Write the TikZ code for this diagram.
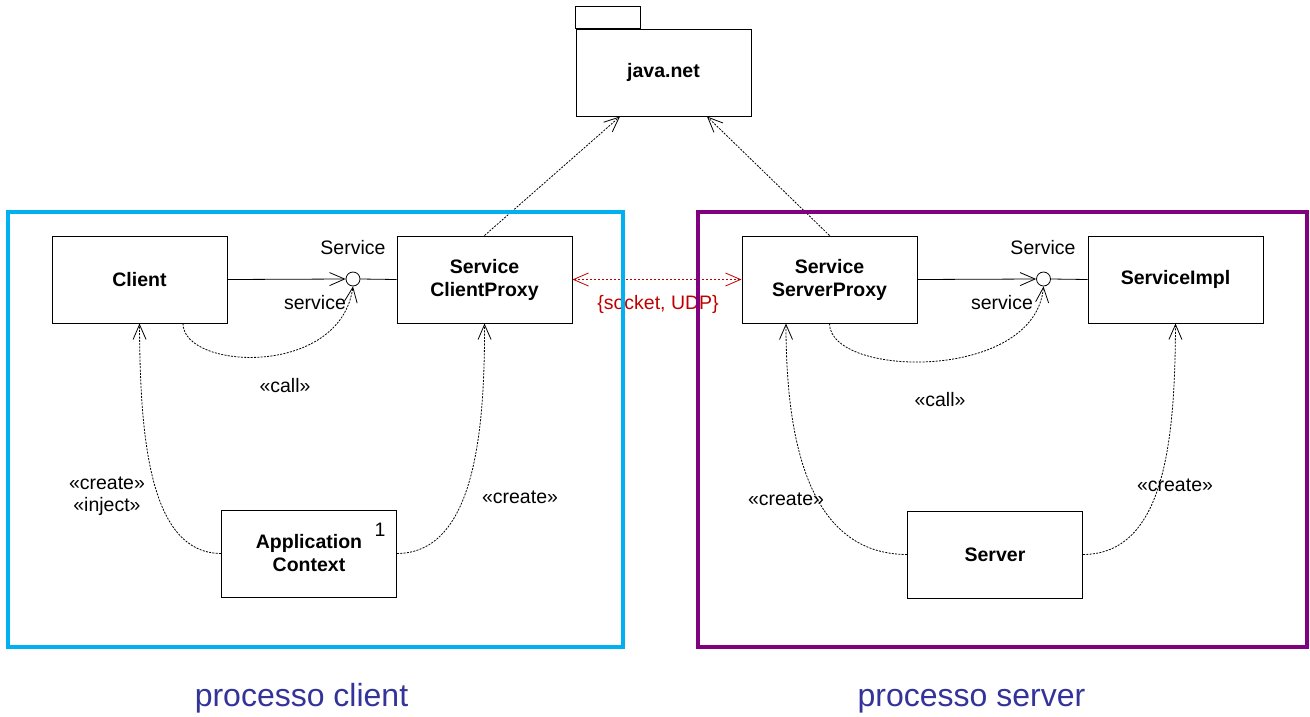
\documentclass[tikz,border=0pt]{standalone}
\usepackage{fontspec}
\setmainfont{Liberation Sans}
\usetikzlibrary{arrows.meta,calc}
\definecolor{cyanframe}{HTML}{00B0F0}
\definecolor{purpleframe}{HTML}{800080}
\definecolor{labelblue}{HTML}{333399}
\definecolor{socketred}{HTML}{C00000}
\begin{document}
\begin{tikzpicture}[x=1pt,y=-1pt,
  cls/.style={draw, line width=1pt, minimum width=175pt, minimum height=87pt,
    font=\fontsize{19.5}{23}\selectfont\bfseries, align=center, inner sep=0pt, fill=white},
  ifc/.style={draw, circle, minimum size=14pt, inner sep=0pt, line width=0.8pt, fill=white},
  lbl/.style={font=\fontsize{19.5}{22}\selectfont, inner sep=0pt, align=center},
  tip/.style={-{Straight Barb[length=15pt,width=13pt]}},
  dep/.style={dash pattern=on 2pt off 1.3pt, line width=0.8pt, tip},
  assoc/.style={line width=0.8pt, tip},
  plain/.style={line width=0.8pt},
  frame/.style={line width=4pt},
  procl/.style={font=\fontsize{32}{36}\selectfont, text=labelblue, inner sep=0pt, anchor=base}
]
\useasboundingbox (0,0) rectangle (1310,716);

% package java.net
\node[cls, minimum height=87pt] (javanet) at (663.5,72.5) {java.net};
\draw[line width=1pt] (javanet.north west) rectangle ++(65,-22);

% classes
\node[cls] (client) at (139.5,279.5) {Client};
\node[cls] (cproxy) at (484.5,279.5) {Service\\ClientProxy};
\node[cls] (appctx) at (309,553.5) {Application\\Context};
\node[lbl, anchor=center] (one) at (380,530) {1};
\node[cls] (sproxy) at (829.5,279.5) {Service\\ServerProxy};
\node[cls] (impl) at (1175.5,279.5) {ServiceImpl};
\node[cls] (server) at (995,554.5) {Server};

% interfaces
\node[ifc] (ifc1) at (353,279) {};
\node[ifc] (ifc2) at (1043.5,279) {};
\node[lbl] (svc1) at (353,248) {Service};
\node[lbl] (svcr1) at (315,303) {service};
\node[lbl] (svc2) at (1043,248) {Service};
\node[lbl] (svcr2) at (1002,303) {service};

% associations
\draw[assoc] (client.east) -- (ifc1.west);
\draw[plain] (ifc1.east) -- (cproxy.west);
\draw[assoc] (sproxy.east) -- (ifc2.west);
\draw[plain] (ifc2.east) -- (impl.west);

% call dependencies
\draw[dep] ([xshift=43.5pt]client.south) .. controls (183,370) and (340,378) .. (ifc1.south);
\draw[dep] (sproxy.south) .. controls (830,378) and (1035,382) .. (ifc2.south);
\node[lbl] (call1) at (285,386) {«call»};
\node[lbl] (call2) at (940,400) {«call»};

% create dependencies
\draw[dep] (appctx.west) .. controls (150,553) and (140,440) .. (client.south);
\draw[dep] (appctx.east) .. controls (472,553) and (485,440) .. (cproxy.south);
\draw[dep] (server.west) .. controls (808,554) and (786,440) .. ([xshift=-43.5pt]sproxy.south);
\draw[dep] (server.east) .. controls (1165,554) and (1175,440) .. (impl.south);
\node[lbl] (ci) at (107,496) {«create»\\«inject»};
\node[lbl] (cr1) at (520,497) {«create»};
\node[lbl] (cr2) at (786,499) {«create»};
\node[lbl] (cr3) at (1175,485) {«create»};

% java.net dependencies
\draw[dep] (cproxy.north) -- ([xshift=-43.5pt]javanet.south);
\draw[dep] (sproxy.north) -- ([xshift=43.5pt]javanet.south);

% socket link
\draw[socketred, dash pattern=on 2.5pt off 1.5pt, line width=0.8pt,
  {Straight Barb[length=15pt,width=13pt]}-{Straight Barb[length=15pt,width=13pt]}]
  (cproxy.east) -- (sproxy.west);
\node[lbl, text=socketred] (sock) at (658,304) {\{socket, UDP\}};

% process frames
\draw[frame, cyanframe] (8,212) rectangle (623,647);
\draw[frame, purpleframe] (698,212) rectangle (1307,647);
\node[procl] (pc) at (301.5,706) {processo client};
\node[procl] (ps) at (971.5,706) {processo server};
\end{tikzpicture}
\end{document}
